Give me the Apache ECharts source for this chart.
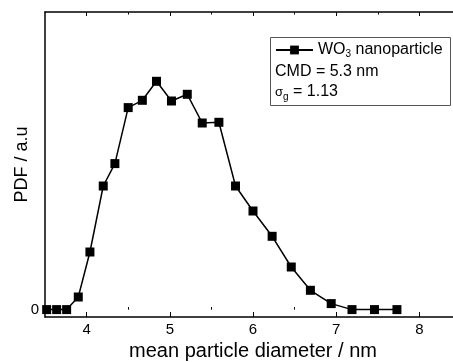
<!DOCTYPE html>
<html>
<head>
<meta charset="utf-8">
<script src="https://cdn.jsdelivr.net/npm/echarts@6/dist/echarts.min.js"></script>
<style>
  html, body { margin: 0; padding: 0; background: #fff; }
  #chart { width: 453px; height: 362px; }
</style>
</head>
<body>
<div id="chart"></div>
<script>
// size bins (nm) and PDF values (arbitrary units)
const diameters = [3.52, 3.64, 3.76, 3.90, 4.04, 4.20, 4.34, 4.50, 4.67, 4.84, 5.02, 5.21,
    5.39, 5.59, 5.79, 6.00, 6.23, 6.46, 6.69, 6.94, 7.19, 7.46, 7.73]
const pdf = [0, 0, 0, 0.126, 0.576, 1.236, 1.46, 2.02, 2.093, 2.283, 2.086, 2.153,
    1.866, 1.873, 1.236, 0.986, 0.733, 0.426, 0.193, 0.06, 0, 0, 0]
const majorTicks = [4, 5, 6, 7, 8]
const minorTicks = [4.5, 5.5, 6.5, 7.5]
const yLabels = [0]

const font = '"Liberation Sans", Arial, sans-serif'
const chart = echarts.init(document.getElementById('chart'))

const baseX = {
    type: 'value',
    min: 3.5,
    max: 8.5,
    splitLine: {show: false},
    axisLine: {show: false},
    axisLabel: {show: false},
    axisTick: {inside: true, lineStyle: {color: '#000', width: 1}}
}

const option = {
    animation: false,
    textStyle: {fontFamily: font},
    grid: {left: 45, right: -8, top: 12, bottom: 45, outerBoundsMode: 'none', containLabel: false},
    xAxis: [
        {
            ...baseX,
            position: 'bottom',
            axisLine: {show: true, onZero: false, lineStyle: {color: '#000', width: 1.5}},
            axisTick: {inside: true, length: 5, customValues: majorTicks, lineStyle: {color: '#000', width: 1}},
            axisLabel: {show: true, customValues: majorTicks, color: '#000', fontSize: 15, margin: 5, fontFamily: font},
            name: 'mean particle diameter / nm',
            nameLocation: 'middle',
            nameGap: 23,
            nameTextStyle: {color: '#000', fontSize: 20, fontFamily: font}
        },
        {...baseX, position: 'bottom', axisTick: {...baseX.axisTick, length: 2.5, customValues: minorTicks}},
        {
            ...baseX,
            position: 'top',
            axisLine: {show: true, onZero: false, lineStyle: {color: '#000', width: 1.5}},
            axisTick: {...baseX.axisTick, length: 4, customValues: majorTicks}
        },
        {...baseX, position: 'top', axisTick: {...baseX.axisTick, length: 2.5, customValues: minorTicks}}
    ],
    yAxis: {
        type: 'value',
        min: -0.074,
        max: 2.976,
        splitLine: {show: false},
        axisLine: {show: true, onZero: false, lineStyle: {color: '#000', width: 1.5}},
        axisTick: {show: false},
        axisLabel: {customValues: yLabels, color: '#000', fontSize: 15, margin: 6, fontFamily: font},
        name: 'PDF / a.u',
        nameLocation: 'middle',
        nameGap: 14,
        nameMoveOverlap: false,
        nameTextStyle: {color: '#000', fontSize: 18, fontFamily: font}
    },
    legend: {
        data: ['WO3 nanoparticle'],
        left: 275,
        top: 42,
        padding: 0,
        itemWidth: 37,
        itemHeight: 11,
        z: 6,
        formatter: () => '{a|WO}{s|3}{a| nanoparticle}',
        textStyle: {
            rich: {
                a: {fontSize: 16, color: '#000', fontFamily: font},
                s: {fontSize: 10, color: '#000', fontFamily: font, verticalAlign: 'bottom', padding: [8, 0, 0, 0]}
            }
        }
    },
    graphic: [
        {
            type: 'rect',
            z: 3,
            shape: {x: 270.5, y: 37.5, width: 180, height: 68},
            style: {fill: '#fff', stroke: '#555', lineWidth: 1}
        },
        {
            type: 'text',
            z: 7,
            left: 275,
            top: 64,
            style: {text: 'CMD = 5.3 nm', fill: '#000', font: '16px ' + font}
        },
        {
            type: 'text',
            z: 7,
            left: 275,
            top: 84,
            style: {
                text: '{s|σ}{g|g}{a| = 1.13}',
                rich: {
                    a: {fontSize: 16, fill: '#000', fontFamily: font},
                    s: {fontSize: 13, fill: '#000', fontFamily: font},
                    g: {fontSize: 10, fill: '#000', fontFamily: font, padding: [10, 0, 0, 0]}
                }
            }
        }
    ],
    series: [
        {
            name: 'WO3 nanoparticle',
            type: 'line',
            data: diameters.map((d, i) => [d, pdf[i]]),
            symbol: 'rect',
            symbolSize: 9,
            clip: true,
            itemStyle: {color: '#000'},
            lineStyle: {color: '#000', width: 1.5}
        }
    ]
}
chart.setOption(option)
</script>
</body>
</html>
